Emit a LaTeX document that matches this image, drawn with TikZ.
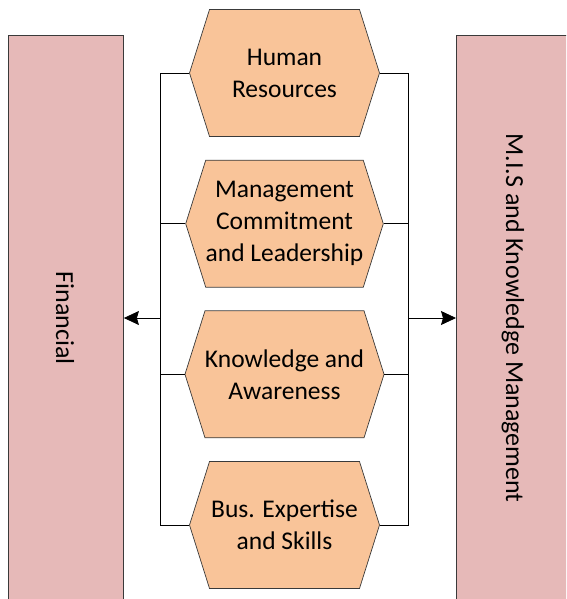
\documentclass[tikz,border=0pt]{standalone}
\usepackage{fontspec}
\setmainfont{Carlito}
\usetikzlibrary{shapes.symbols,arrows.meta}
\definecolor{pinkbox}{HTML}{E6B9B8}
\definecolor{orangehex}{HTML}{F9C499}
\definecolor{edge}{HTML}{3A3A3A}
\tikzset{
  sidebox/.style={draw=edge, fill=pinkbox, line width=0.9pt, minimum width=115pt, minimum height=600pt, inner sep=0pt, anchor=north west},
  sidelabel/.style={rotate=-90, font=\fontsize{26}{30}\selectfont},
  hexbox/.style={shape=signal, signal to=west and east, signal pointer angle=145, draw=edge, fill=orangehex, line width=0.7pt, minimum width=190pt, minimum height=127pt, inner sep=0pt, align=center, font=\fontsize{25.5}{32}\selectfont},
  conn/.style={draw=black, line width=0.8pt},
  arr/.style={conn, -{Stealth[length=15pt,width=14pt,inset=2pt]}}
}
\begin{document}
\begin{tikzpicture}[x=1pt,y=-1pt]
\useasboundingbox (0,0) rectangle (566,599);
\clip (0,0) rectangle (566,599);
\node[sidebox] (fin) at (8,35) {};
\node[sidebox] (mis) at (456,35) {};
\node[sidelabel] (finlab) at (65,318) {Financial};
\node[sidelabel] (mislab) at (513,318) {M.I.S and Knowledge Management};
\node[hexbox] (h1) at (284.5,73) {Human\\Resources};
\node[hexbox] (h2) at (284.5,223.7) {Management\\Commitment\\and Leadership};
\node[hexbox] (h3) at (284.5,374.3) {Knowledge and\\Awareness};
\node[hexbox] (h4) at (284.5,525) {Bus. Expertise\\and Skills};
\coordinate (L) at (160,318);
\coordinate (R) at (408,318);
\draw[conn] (h1.west) -| (L |- h4.west) -- (h4.west);
\draw[conn] (h2.west) -- (L |- h2.west);
\draw[conn] (h3.west) -- (L |- h3.west);
\draw[conn] (h1.east) -| (R |- h4.east) -- (h4.east);
\draw[conn] (h2.east) -- (R |- h2.east);
\draw[conn] (h3.east) -- (R |- h3.east);
\draw[arr] (L) -- (fin.east |- L);
\draw[arr] (R) -- (mis.west |- R);
\end{tikzpicture}
\end{document}
